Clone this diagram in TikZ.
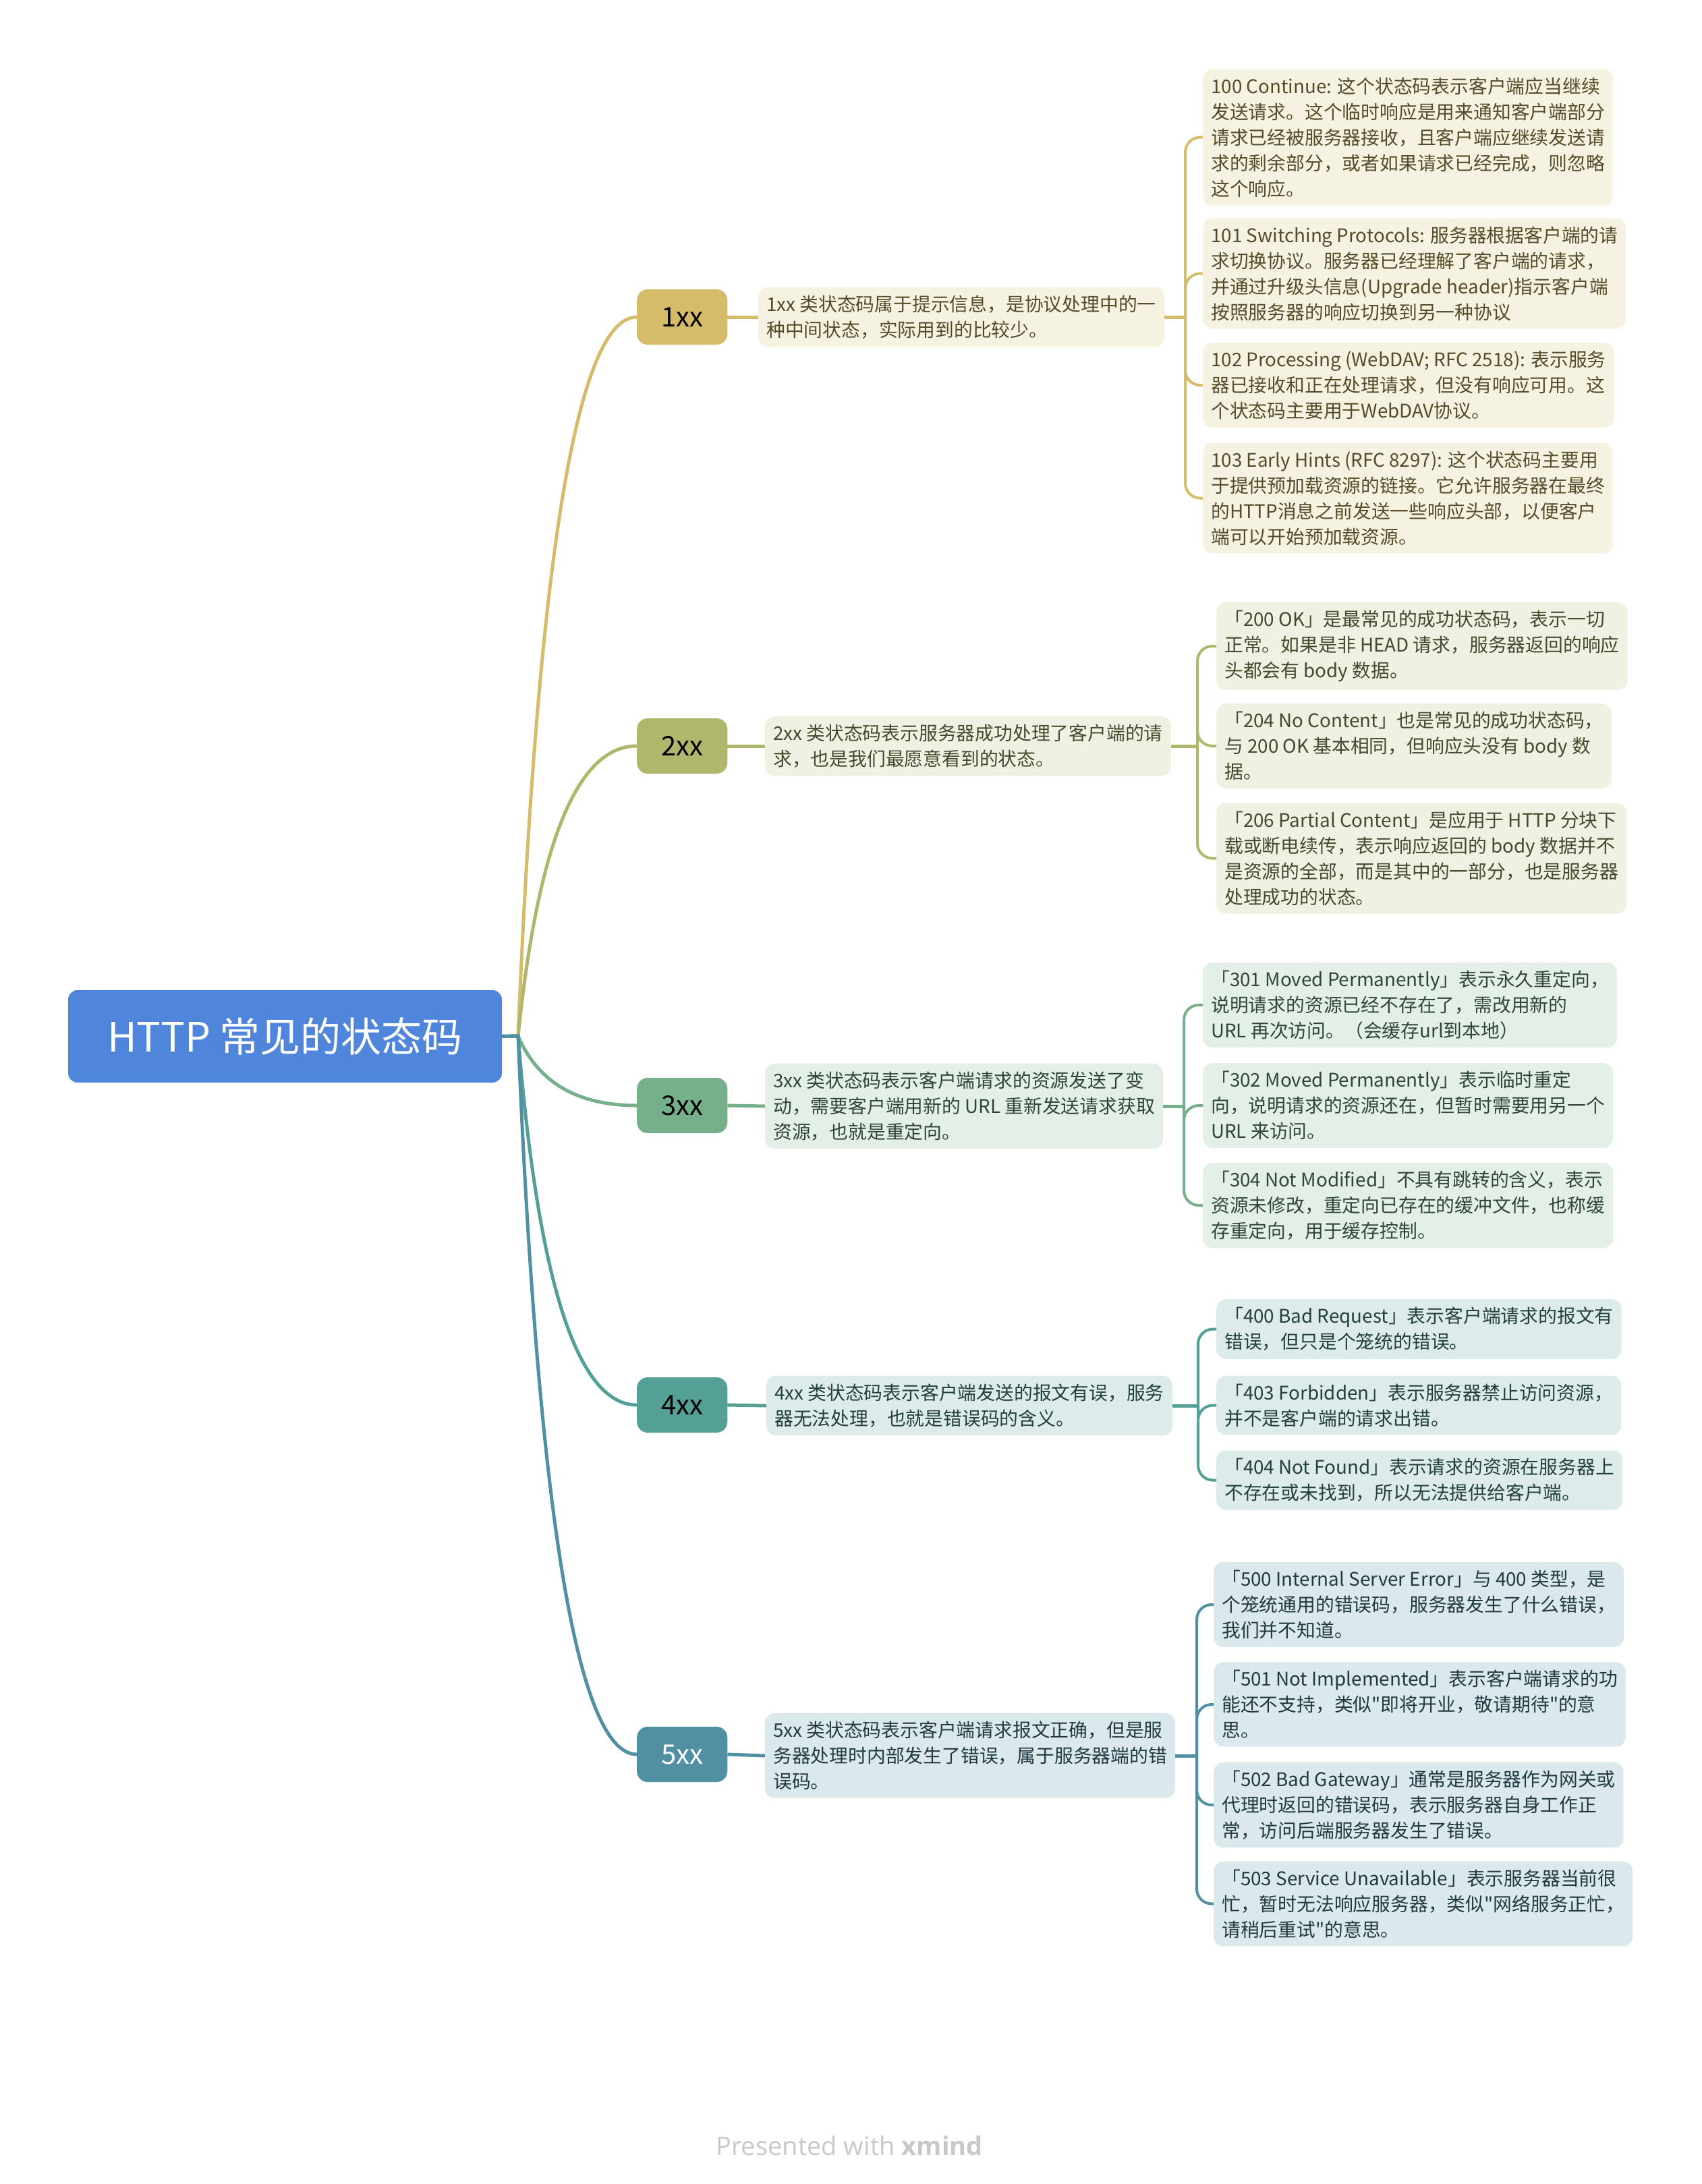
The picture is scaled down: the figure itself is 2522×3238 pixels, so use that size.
\documentclass[tikz,border=0pt]{standalone}
\usepackage{fontspec}
\setmainfont{Noto Sans CJK SC}[Ligatures=TeXOff]
\newfontfamily\footfont{Open Sans}
\usetikzlibrary{calc}

\definecolor{c1xx}{HTML}{D4BC6A}
\definecolor{c2xx}{HTML}{B0B76D}
\definecolor{c3xx}{HTML}{76B08A}
\definecolor{c4xx}{HTML}{54A096}
\definecolor{c5xx}{HTML}{5090A2}
\definecolor{rootblue}{HTML}{4F86DB}
\definecolor{footgray}{HTML}{C8C8C8}

\begin{document}
\begin{tikzpicture}[x=1pt, y=-1pt,
    topic/.style={fill=rootblue, rounded corners=14pt, minimum width=643pt,
                  minimum height=137pt, text=white, font=\fontsize{60}{70}\selectfont},
    klass/.style={fill=#1, rounded corners=16pt, minimum height=82pt, inner xsep=36pt,
                  anchor=west, font=\fontsize{40}{44}\selectfont},
    note/.style={fill=#1!20!white, text=#1!40!black, rounded corners=14pt,
                 inner xsep=12pt, inner ysep=12pt, align=left, anchor=west,
                 font=\fontsize{27.8}{38}\selectfont},
    bough/.style={draw=#1, line width=5pt},
    twig/.style={draw=#1, line width=4pt, rounded corners=22pt}
]
\useasboundingbox (0,0) rectangle (2522,3238);

\node[topic] (root) at (422.5,1536.5) {HTTP 常见的状态码};
\coordinate (hub) at (768,1536);

% status classes
\node[klass=c1xx] (s1) at (944,470)  {1xx};
\node[klass=c2xx] (s2) at (944,1106) {2xx};
\node[klass=c3xx] (s3) at (944,1639) {3xx};
\node[klass=c4xx] (s4) at (944,2083) {4xx};
\node[klass=c5xx, text=white] (s5) at (944,2601) {5xx};

% class descriptions
\node[note=c1xx] (d1) at (1124,470) {1xx 类状态码属于提示信息，是协议处理中的一\\种中间状态，实际用到的比较少。};
\node[note=c2xx] (d2) at (1134,1106) {2xx 类状态码表示服务器成功处理了客户端的请\\求，也是我们最愿意看到的状态。};
\node[note=c3xx] (d3) at (1134,1640) {3xx 类状态码表示客户端请求的资源发送了变\\动，需要客户端用新的 URL 重新发送请求获取\\资源，也就是重定向。};
\node[note=c4xx] (d4) at (1136,2084) {4xx 类状态码表示客户端发送的报文有误，服务\\器无法处理，也就是错误码的含义。};
\node[note=c5xx] (d5) at (1134,2603) {5xx 类状态码表示客户端请求报文正确，但是服\\务器处理时内部发生了错误，属于服务器端的错\\误码。};

% 1xx
\node[note=c1xx] (n100) at (1783,203.5) {100 Continue: 这个状态码表示客户端应当继续\\发送请求。这个临时响应是用来通知客户端部分\\请求已经被服务器接收，且客户端应继续发送请\\求的剩余部分，或者如果请求已经完成，则忽略\\这个响应。};
\node[note=c1xx] (n101) at (1783,405.5) {101 Switching Protocols: 服务器根据客户端的请\\求切换协议。服务器已经理解了客户端的请求，\\并通过升级头信息(Upgrade header)指示客户端\\按照服务器的响应切换到另一种协议};
\node[note=c1xx] (n102) at (1783,571) {102 Processing (WebDAV; RFC 2518): 表示服务\\器已接收和正在处理请求，但没有响应可用。这\\个状态码主要用于WebDAV协议。};
\node[note=c1xx] (n103) at (1783,738.5) {103 Early Hints (RFC 8297): 这个状态码主要用\\于提供预加载资源的链接。它允许服务器在最终\\的HTTP消息之前发送一些响应头部，以便客户\\端可以开始预加载资源。};

% 2xx
\node[note=c2xx] (n200) at (1803,958) {「200 OK」是最常见的成功状态码，表示一切\\正常。如果是非 HEAD 请求，服务器返回的响应\\头都会有 body 数据。};
\node[note=c2xx] (n204) at (1803,1106) {「204 No Content」也是常见的成功状态码，\\与 200 OK 基本相同，但响应头没有 body 数\\据。};
\node[note=c2xx] (n206) at (1803,1272.5) {「206 Partial Content」是应用于 HTTP 分块下\\载或断电续传，表示响应返回的 body 数据并不\\是资源的全部，而是其中的一部分，也是服务器\\处理成功的状态。};

% 3xx
\node[note=c3xx] (n301) at (1783,1490) {「301 Moved Permanently」表示永久重定向，\\说明请求的资源已经不存在了，需改用新的\\URL 再次访问。（会缓存url到本地）};
\node[note=c3xx] (n302) at (1783,1639) {「302 Moved Permanently」表示临时重定\\向，说明请求的资源还在，但暂时需要用另一个\\URL 来访问。};
\node[note=c3xx] (n304) at (1783,1787) {「304 Not Modified」不具有跳转的含义，表示\\资源未修改，重定向已存在的缓冲文件，也称缓\\存重定向，用于缓存控制。};

% 4xx
\node[note=c4xx] (n400) at (1803,1970.5) {「400 Bad Request」表示客户端请求的报文有\\错误，但只是个笼统的错误。};
\node[note=c4xx] (n403) at (1803,2083.5) {「403 Forbidden」表示服务器禁止访问资源，\\并不是客户端的请求出错。};
\node[note=c4xx] (n404) at (1803,2194.5) {「404 Not Found」表示请求的资源在服务器上\\不存在或未找到，所以无法提供给客户端。};

% 5xx
\node[note=c5xx] (n500) at (1799,2379) {「500 Internal Server Error」与 400 类型，是\\个笼统通用的错误码，服务器发生了什么错误，\\我们并不知道。};
\node[note=c5xx] (n501) at (1799,2527) {「501 Not Implemented」表示客户端请求的功\\能还不支持，类似"即将开业，敬请期待"的意\\思。};
\node[note=c5xx] (n502) at (1799,2676) {「502 Bad Gateway」通常是服务器作为网关或\\代理时返回的错误码，表示服务器自身工作正\\常，访问后端服务器发生了错误。};
\node[note=c5xx] (n503) at (1799,2822.5) {「503 Service Unavailable」表示服务器当前很\\忙，暂时无法响应服务器，类似"网络服务正忙，\\请稍后重试"的意思。};

% forks
\coordinate (f1) at (1757,470);
\coordinate (f2) at (1775,1106);
\coordinate (f3) at (1755,1640);
\coordinate (f4) at (1776,2084);
\coordinate (f5) at (1774,2603);

% main branches
\foreach \i/\col in {1/c1xx, 2/c2xx, 3/c3xx, 4/c4xx, 5/c5xx}{
  \draw[bough=\col] (root.east) -- (hub) let \p1=(hub), \p2=(s\i.west) in
    .. controls ({\x1+(\x2-\x1)/6},{\y1+(\y2-\y1)*2/3}) and ({(\x1+\x2)/2},\y2) .. (s\i.west);
  \draw[bough=\col] (s\i.east) -- (d\i.west);
  \draw[bough=\col] (d\i.east) -- (f\i);
}

\foreach \n in {100,101,102,103} \draw[twig=c1xx] (f1) |- (n\n.west);
\foreach \n in {200,204,206} \draw[twig=c2xx] (f2) |- (n\n.west);
\foreach \n in {301,302,304} \draw[twig=c3xx] (f3) |- (n\n.west);
\foreach \n in {400,403,404} \draw[twig=c4xx] (f4) |- (n\n.west);
\foreach \n in {500,501,502,503} \draw[twig=c5xx] (f5) |- (n\n.west);

\node[text=footgray, font=\footfont\fontsize{38}{42}\selectfont] (credit) at (1259,3181) {Presented with \textbf{xmind}};
\end{tikzpicture}
\end{document}
